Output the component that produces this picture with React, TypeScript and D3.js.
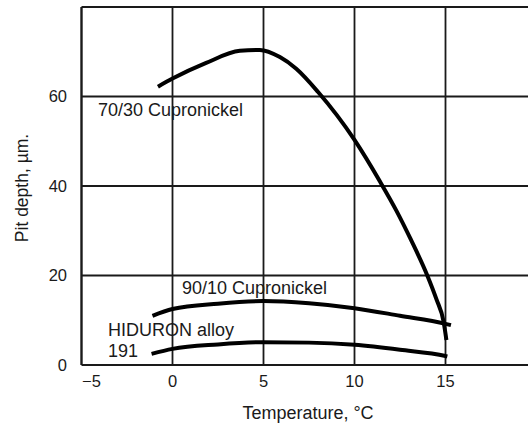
import React, { useEffect } from "react";
import * as d3 from "d3";

// temperature (°C) vs pit depth (µm)
const cupro7030 = [
  [-0.8, 62.2], [0, 64.0], [1.85, 67.5], [3.7, 70.2], [4.8, 70.4], [5.9, 68.8],
  [6.8, 66.2], [8, 61], [10, 50.3], [11.4, 41], [12.3, 34.5], [13.1, 28],
  [14, 20], [14.5, 14.7], [14.9, 9.6], [15.05, 5.6],
];
const cupro9010 = [
  [-1.1, 11], [0, 12.5], [2.5, 13.7], [5, 14.3], [7.5, 13.8], [10, 12.7], [12.5, 11], [15, 9.2], [15.3, 8.9],
];
const hiduron = [
  [-1.15, 2.5], [0, 3.6], [2.5, 4.6], [5, 5.1], [7.5, 5], [10, 4.5], [12.5, 3.4], [15, 2.0], [15.1, 1.9],
];
const xTicks = [-5, 0, 5, 10, 15];
const yTicks = [0, 20, 40, 60];
const xGrid = [0, 5, 10, 15];
const yGrid = [20, 40, 60];

const W = 528;
const H = 423;
const ink = "#1a1a1a";
const font = "'Liberation Sans', Arial, Helvetica, sans-serif";

export default function App() {
  useEffect(() => {
    document.body.style.margin = "0";
  }, []);

  const x = d3.scaleLinear().domain([-5, 20]).range([81.5, 536.5]);
  const y = d3.scaleLinear().domain([0, 80]).range([365, 7]);

  const line = d3
    .line<number[]>()
    .x((d) => x(d[0]))
    .y((d) => y(d[1]))
    .curve(d3.curveMonotoneX);

  return (
    <svg width={W} height={H} style={{ display: "block", background: "#fff" }}>
      {/* grid */}
      {xGrid.map((t) => (
        <line key={"gx" + t} x1={x(t)} x2={x(t)} y1={y(80)} y2={y(0)} stroke={ink} strokeWidth={1.8} />
      ))}
      {yGrid.map((t) => (
        <line key={"gy" + t} x1={x(-5)} x2={x(20)} y1={y(t)} y2={y(t)} stroke={ink} strokeWidth={1.8} />
      ))}
      {/* frame */}
      <line x1={x(-5)} x2={x(20)} y1={y(80)} y2={y(80)} stroke={ink} strokeWidth={2.2} />
      <line x1={x(-5)} x2={x(20)} y1={y(0)} y2={y(0)} stroke={ink} strokeWidth={2.2} />
      <line x1={x(-5)} x2={x(-5)} y1={y(80)} y2={y(0)} stroke={ink} strokeWidth={2.4} />

      {/* curves */}
      {[cupro7030, cupro9010, hiduron].map((s, i) => (
        <path key={i} d={line(s) || ""} fill="none" stroke="#000" strokeWidth={4} strokeLinecap="butt" />
      ))}

      {/* tick labels */}
      {xTicks.map((t, i) => (
        <text key={"xt" + t} x={x(t) + (i === 0 ? 10 : 0)} y={387} textAnchor="middle"
          fontFamily={font} fontSize={16.5} fill={ink}>
          {t < 0 ? "\u2212" + Math.abs(t) : t}
        </text>
      ))}
      {yTicks.map((t) => (
        <text key={"yt" + t} x={67} y={y(t)} dy="0.35em" textAnchor="end"
          fontFamily={font} fontSize={16.5} fill={ink}>
          {t}
        </text>
      ))}

      {/* axis titles */}
      <text x={308} y={419} textAnchor="middle" fontFamily={font} fontSize={18} fill={ink}>
        Temperature, °C
      </text>
      <text transform="translate(22,188) rotate(-90)" textAnchor="middle" dy="0.35em"
        fontFamily={font} fontSize={17.5} fill={ink}>
        Pit depth, µm.
      </text>

      {/* series labels */}
      <text x={98} y={110} dy="0.35em" fontFamily={font} fontSize={18} fill={ink}>70/30 Cupronickel</text>
      <text x={182} y={288} dy="0.35em" fontFamily={font} fontSize={18} fill={ink}>90/10 Cupronickel</text>
      <text x={108} y={330} dy="0.35em" fontFamily={font} fontSize={18} fill={ink}>HIDURON alloy</text>
      <text x={108} y={351} dy="0.35em" fontFamily={font} fontSize={18} fill={ink}>191</text>
    </svg>
  );
}
